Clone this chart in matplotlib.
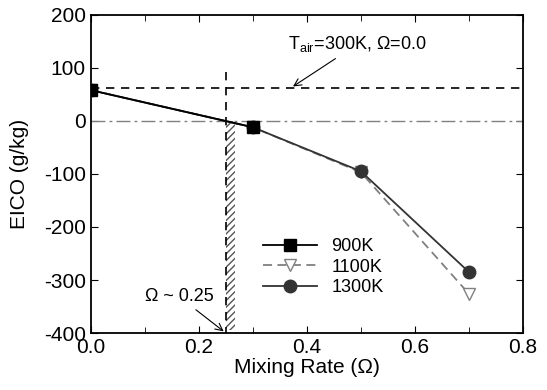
import matplotlib.pyplot as plt
from matplotlib.ticker import MultipleLocator

plt.rcParams['font.family'] = ['Liberation Sans', 'DejaVu Sans']
plt.rcParams['axes.unicode_minus'] = False
plt.rcParams['mathtext.fontset'] = 'custom'
plt.rcParams['mathtext.rm'] = 'Liberation Sans'
plt.rcParams['mathtext.it'] = 'Liberation Sans'

# mixing rate (Omega)
omega_900 = [0.0, 0.3]
eico_900 = [58, -12]
omega_1100 = [0.0, 0.3, 0.5, 0.7]
eico_1100 = [58, -12, -97, -326]
omega_1300 = [0.0, 0.3, 0.5, 0.7]
eico_1300 = [58, -12, -95, -285]

eico_ref = 62        # T_air=300K, Omega=0.0
omega_cross = 0.25
hatch_width = 0.017

fig = plt.figure(figsize=(5.47, 3.9), dpi=100)
ax = fig.add_axes([0.166, 0.146, 0.79, 0.816])

# reference lines
ax.axhline(eico_ref, color='black', ls=(0, (5, 4)), lw=1.2)
ax.axhline(0, color='gray', ls=(0, (10, 3, 2, 3)), lw=1.0)
ax.plot([omega_cross, omega_cross], [92, -400], color='black', ls=(0, (5, 4)), lw=1.2)
ax.fill_between([omega_cross, omega_cross + hatch_width], -395, 0,
                facecolor='none', edgecolor='#555555', hatch='/////', lw=0)

ax.plot(omega_900, eico_900, color='black', lw=1.3, marker='s', ms=9,
        mfc='black', label='900K', zorder=4)
ax.plot(omega_1100, eico_1100, color='gray', lw=1.3, ls=(0, (5, 3)), marker='v', ms=9,
        mfc='white', mec='gray', label='1100K', zorder=3)
ax.plot(omega_1300, eico_1300, color='#333333', lw=1.3, marker='o', ms=9,
        mfc='#333333', label='1300K', zorder=3)

ax.annotate('T$_{air}$=300K, Ω=0.0', xy=(0.37, eico_ref),
            xytext=(0.365, 135), fontsize=13,
            arrowprops=dict(arrowstyle='->', color='black', lw=0.8))
ax.annotate('Ω ~ 0.25', xy=(omega_cross, -400),
            xytext=(0.1, -340), fontsize=13,
            arrowprops=dict(arrowstyle='->', color='black', lw=0.8))

ax.set_xlim(0, 0.8)
ax.set_ylim(-400, 200)
ax.xaxis.set_major_locator(MultipleLocator(0.2))
ax.xaxis.set_minor_locator(MultipleLocator(0.1))
ax.yaxis.set_major_locator(MultipleLocator(100))
ax.xaxis.set_major_formatter(plt.FormatStrFormatter('%.1f'))
ax.tick_params(which='both', direction='in', top=True, right=True, labelsize=15)
ax.tick_params(which='major', length=5)
ax.tick_params(which='minor', length=4)
for s in ax.spines.values():
    s.set_linewidth(1.3)

ax.set_xlabel('Mixing Rate (Ω)', fontsize=15, labelpad=1)
ax.set_ylabel('EICO (g/kg)', fontsize=15, labelpad=11)

ax.legend(loc='lower left', bbox_to_anchor=(0.36, 0.065), frameon=False, fontsize=13,
          handlelength=3, labelspacing=0.2)

fig.savefig('out.png', dpi=100)
